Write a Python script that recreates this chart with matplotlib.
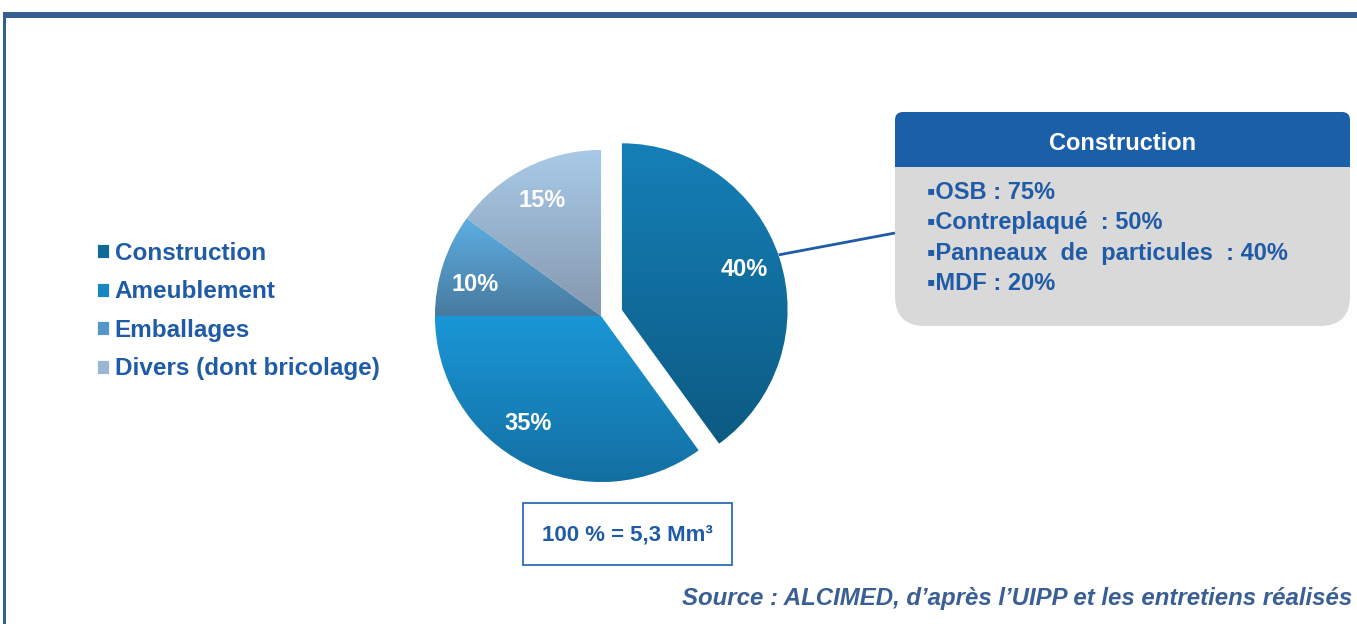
"""Wood panel use by sector: pie with a Construction callout."""

import numpy as np
import matplotlib
matplotlib.use("Agg")
import matplotlib.pyplot as plt
from matplotlib.patches import FancyBboxPatch, Rectangle
from matplotlib.colors import LinearSegmentedColormap

W, H = 1357, 624

SECTORS = ["Construction", "Ameublement", "Emballages", "Divers (dont bricolage)"]
SHARES = [40, 35, 10, 15]
EXPLODE = [0.13, 0, 0, 0]
# (top, bottom) of the vertical gradient in each slice
SLICE_TOP = ["#1580b8", "#1a97d6", "#5eaee2", "#a8cae8"]
SLICE_BOTTOM = ["#0c5a82", "#136fa2", "#477a9f", "#8598ae"]
LEGEND_COLORS = ["#0f6a98", "#1886c2", "#5596c8", "#9ab6d4"]

CALLOUT_TITLE = "Construction"
CALLOUT_ITEMS = [
    "▪OSB : 75%",
    "▪Contreplaqué  : 50%",
    "▪Panneaux  de  particules  : 40%",
    "▪MDF : 20%",
]
TOTAL_LABEL = "100 % = 5,3 Mm³"
SOURCE = "Source : ALCIMED, d’après l’UIPP et les entretiens réalisés"

BLUE_TEXT = "#1f5ba6"
FRAME = "#365f91"
FONT = ["Liberation Sans", "DejaVu Sans"]

plt.rcParams["font.family"] = FONT

fig = plt.figure(figsize=(W / 100, H / 100), dpi=100)

# overlay in pixel coordinates for the frame and boxes
ov = fig.add_axes([0, 0, 1, 1])
ov.set_xlim(0, W)
ov.set_ylim(H, 0)
ov.axis("off")

ov.add_patch(Rectangle((3, 12), W, 5.7, color=FRAME, lw=0))
ov.add_patch(Rectangle((3, 12), 2.6, H, color=FRAME, lw=0))

# pie axes: centre (601, 316) px, radius 166 px
R_PX = 166
half = 210
ax = fig.add_axes([(601 - half) / W, (H - 316 - half) / H, 2 * half / W, 2 * half / H])
lim = half / R_PX

wedges, texts, autotexts = ax.pie(
    SHARES,
    explode=EXPLODE,
    startangle=90,
    counterclock=False,
    colors=LEGEND_COLORS,
    autopct="%d%%",
    pctdistance=0.78,
    wedgeprops={"edgecolor": "white", "linewidth": 0.6},
    textprops={"color": "white", "fontsize": 17, "fontweight": "bold"},
)
ax.set_xlim(-lim, lim)
ax.set_ylim(-lim, lim)
ax.set_aspect("equal")
ax.axis("off")

grad = np.linspace(0, 1, 256).reshape(-1, 1)
for wedge, top, bottom in zip(wedges, SLICE_TOP, SLICE_BOTTOM):
    ext = wedge.get_path().get_extents()
    cmap = LinearSegmentedColormap.from_list("g", [bottom, top])
    im = ax.imshow(grad, cmap=cmap, origin="lower", aspect="auto",
                   extent=[ext.x0, ext.x1, ext.y0, ext.y1], zorder=wedge.get_zorder() + 0.1)
    im.set_clip_path(wedge)
ax.set_xlim(-lim, lim)
ax.set_ylim(-lim, lim)

# nudge the percentage labels a little towards where the original puts them
for t, dtheta in zip(autotexts, [0, -7, 4, 0]):
    x, y = t.get_position()
    r = np.hypot(x, y)
    a = np.arctan2(y, x) + np.deg2rad(dtheta)
    if dtheta:
        t.set_position((r * np.cos(a), r * np.sin(a)))
    t.set_zorder(5)

leg = fig.legend(
    wedges, SECTORS,
    loc="upper left",
    bbox_to_anchor=(87 / W, 1 - 232 / H),
    frameon=False,
    fontsize=17.5,
    handlelength=0.52,
    handleheight=0.52,
    handletextpad=0.22,
    labelspacing=0.64,
    borderaxespad=0,
)
for txt in leg.get_texts():
    txt.set_color(BLUE_TEXT)
    txt.set_fontweight("bold")

# callout box
ov.add_patch(FancyBboxPatch((895, 112), 455, 214, boxstyle="round,pad=0,rounding_size=30",
                            facecolor="#d9d9d9", edgecolor="none"))
header = FancyBboxPatch((895, 112), 455, 90, boxstyle="round,pad=0,rounding_size=8",
                        facecolor="#1b5fa8", edgecolor="none")
ov.add_patch(header)
header.set_clip_path(Rectangle((0, 0), W, 167, transform=ov.transData))
ov.text(1123, 144, CALLOUT_TITLE, color="white", fontsize=17, fontweight="bold",
        ha="center", va="center")
for i, item in enumerate(CALLOUT_ITEMS):
    ov.text(927, 192.5 + i * 30.3, item, color=BLUE_TEXT, fontsize=17, fontweight="bold",
            ha="left", va="center")
ov.plot([778, 895], [255, 233], color=BLUE_TEXT, lw=2, solid_capstyle="butt")

# total box
ov.add_patch(Rectangle((523, 503), 209, 62, facecolor="white", edgecolor="#2e6db4", lw=1.3))
ov.text(627, 535, TOTAL_LABEL, color=BLUE_TEXT, fontsize=16, fontweight="bold",
        ha="center", va="center")

ov.text(1352, 598, SOURCE, color="#3a5f95", fontsize=17.3, fontweight="bold", style="italic",
        ha="right", va="center")

fig.savefig("out.png", dpi=100)
